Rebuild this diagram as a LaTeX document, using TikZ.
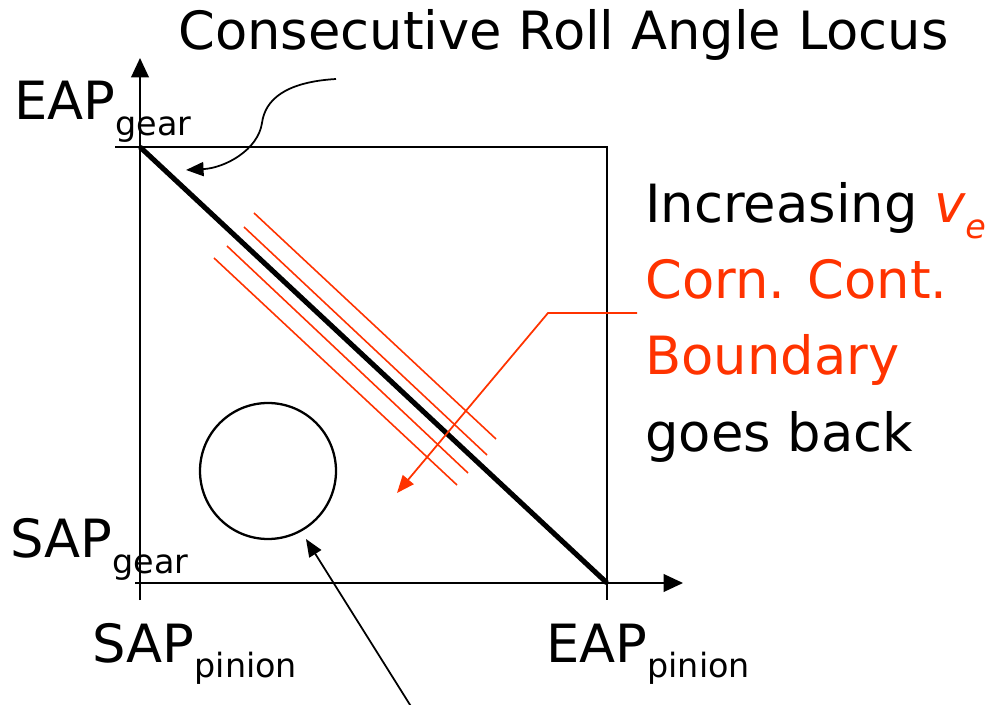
\documentclass[tikz,border=0pt]{standalone}
\usepackage{fontspec}
\setmainfont{DejaVu Sans}
\usepackage{xcolor}
\definecolor{locRed}{RGB}{255,51,0}
\usetikzlibrary{arrows.meta}
\newcommand{\bigtxt}{\fontsize{30}{36}\selectfont}
\newcommand{\subtxt}[1]{\raisebox{-0.3em}{\fontsize{19}{22}\selectfont #1}}

\begin{document}
\begin{tikzpicture}[x=0.02cm, y=-0.02cm,
    axis/.style={line width=1.1pt, -{Triangle[length=11pt,width=10pt]}},
    frame/.style={line width=1.1pt},
    locus/.style={line width=2.9pt},
    bound/.style={locRed, line width=0.9pt},
    lbl/.style={anchor=base west, inner sep=0pt, font=\bigtxt},
    ptr/.style={line width=1pt, -{Triangle[length=10pt,width=8pt]}}
  ]
    \useasboundingbox (0,0) rectangle (994,705);
    % corners of the locus square
    \coordinate (sap) at (140,583);
    \coordinate (eapg) at (140,147);
    \coordinate (eapp) at (607,583);
    \coordinate (topr) at (607,147);
    % axes and frame
    \draw[axis] (140,600) -- (140,58);
    \draw[axis] (135,583) -- (683,583);
    \draw[frame] (115,147) -- (topr) -- (607,600);
    \draw[locus] (eapg) -- (eapp);
    % corner contact boundaries
    \draw[bound] (254,213) -- (496,439);
    \draw[bound] (244,227) -- (487,455);
    \draw[bound] (227,246) -- (468,473);
    \draw[bound] (214,258) -- (457,485);
    \node[circle, draw, line width=1.3pt, minimum size=136*0.02cm, inner sep=0pt] (zone) at (268,471) {};
    % texts
    \node[lbl] (title) at (178,50) {Consecutive Roll Angle Locus};
    \node[lbl] (eapgear) at (14,120) {EAP\subtxt{gear}};
    \node[lbl] (sapgear) at (10,558) {SAP\subtxt{gear}};
    \node[lbl] (sappin) at (92,662) {SAP\subtxt{pinion}};
    \node[lbl] (eappin) at (546,662) {EAP\subtxt{pinion}};
    \node[lbl] (incr) at (645,223) {Increasing {\color{locRed}\itshape v\subtxt{e}}};
    \node[lbl, text=locRed] (corn) at (645,299) {Corn. Cont.};
    \node[lbl, text=locRed] (bnd) at (645,375) {Boundary};
    \node[lbl] (goes) at (645,452) {goes back};
    % pointers
    \coordinate (cornin) at (637,313);
    \coordinate (cornbend) at (548,313);
    \coordinate (cornend) at (397,493);
    \draw[ptr, locRed] (cornin) -- (cornbend) -- (cornend);
    \coordinate (top) at (336,79);
    \coordinate (topend) at (186,170);
    \draw[ptr] (top) .. controls (285,82) and (265,100) .. (262,123)
      .. controls (258,150) and (225,168) .. (topend);
    \coordinate (low) at (412,708);
    \coordinate (lowend) at (306,539);
    \draw[ptr] (low) -- (lowend);
\end{tikzpicture}
\end{document}
